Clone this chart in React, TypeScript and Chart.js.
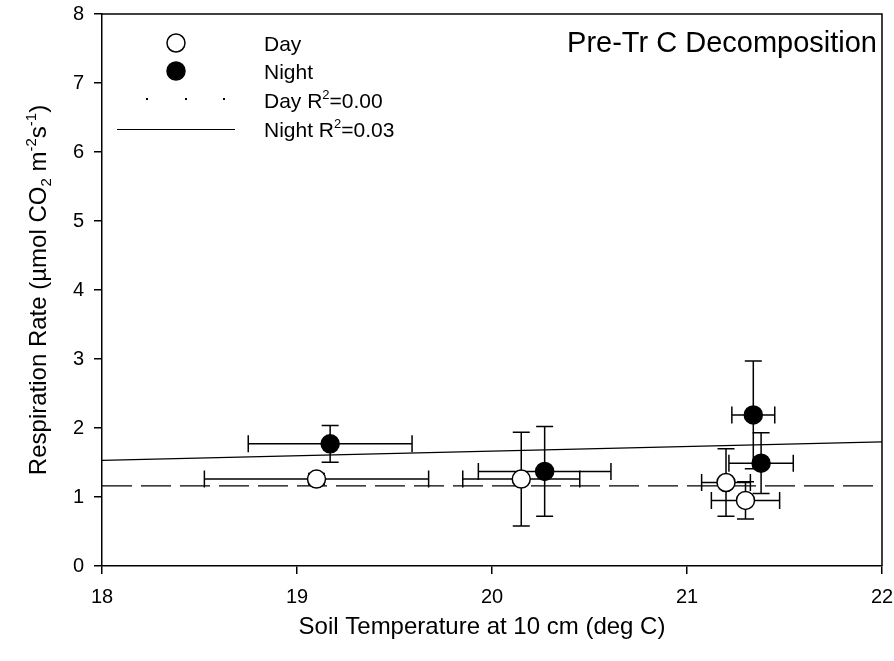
import React, { useEffect, useRef } from "react";
import { Chart, registerables } from "chart.js";

Chart.register(...registerables);

const FONT = "'Liberation Sans', Arial, Helvetica, sans-serif";

// Axis ranges / ticks
const xMin = 18;
const xMax = 22;
const yMin = 0;
const yMax = 8;

// Day (open circles)
const dayTemp = [19.1, 20.15, 21.2, 21.3];
const dayResp = [1.26, 1.26, 1.21, 0.95];
const dayTempErr = [0.575, 0.3, 0.125, 0.175];
const dayRespErr = [0.08, 0.68, 0.49, 0.27];

// Night (filled circles)
const nightTemp = [19.17, 20.27, 21.34, 21.38];
const nightResp = [1.77, 1.37, 2.19, 1.49];
const nightTempErr = [0.42, 0.34, 0.11, 0.165];
const nightRespErr = [0.265, 0.65, 0.78, 0.44];

// Regression lines
const fitX = [18, 22];
const dayFitY = [1.16, 1.16];
const nightFitY = [1.53, 1.8];

const chartTitle = "Pre-Tr C Decomposition";
const legendDay = "Day";
const legendNight = "Night";
const legendDayFit = ["Day R", "2", "=0.00"];
const legendNightFit = ["Night R", "2", "=0.03"];

type Seg = { t: string; s: number; dy: number };

function richWidth(ctx: CanvasRenderingContext2D, segs: Seg[]) {
  let w = 0;
  for (const g of segs) {
    ctx.font = `${g.s}px ${FONT}`;
    w += ctx.measureText(g.t).width;
  }
  return w;
}

function drawRich(
  ctx: CanvasRenderingContext2D,
  segs: Seg[],
  x: number,
  y: number,
  align: "left" | "center"
) {
  let cx = align === "center" ? x - richWidth(ctx, segs) / 2 : x;
  ctx.textAlign = "left";
  ctx.textBaseline = "alphabetic";
  ctx.fillStyle = "#000";
  for (const g of segs) {
    ctx.font = `${g.s}px ${FONT}`;
    ctx.fillText(g.t, cx, y + g.dy);
    cx += ctx.measureText(g.t).width;
  }
}

const errorBarPlugin = {
  id: "errorBars",
  beforeDatasetsDraw(chart: any) {
    const ctx = chart.ctx as CanvasRenderingContext2D;
    const xs = chart.scales.x;
    const ys = chart.scales.y;
    const groups = [
      { x: dayTemp, y: dayResp, ex: dayTempErr, ey: dayRespErr },
      { x: nightTemp, y: nightResp, ex: nightTempErr, ey: nightRespErr },
    ];
    const cap = 8.5;
    ctx.save();
    ctx.strokeStyle = "#000";
    ctx.lineWidth = 1.5;
    for (const g of groups) {
      for (let i = 0; i < g.x.length; i++) {
        const px = xs.getPixelForValue(g.x[i]);
        const py = ys.getPixelForValue(g.y[i]);
        const x1 = xs.getPixelForValue(g.x[i] - g.ex[i]);
        const x2 = xs.getPixelForValue(g.x[i] + g.ex[i]);
        const y1 = ys.getPixelForValue(g.y[i] - g.ey[i]);
        const y2 = ys.getPixelForValue(g.y[i] + g.ey[i]);
        ctx.beginPath();
        ctx.moveTo(x1, py);
        ctx.lineTo(x2, py);
        ctx.moveTo(x1, py - cap);
        ctx.lineTo(x1, py + cap);
        ctx.moveTo(x2, py - cap);
        ctx.lineTo(x2, py + cap);
        ctx.moveTo(px, y1);
        ctx.lineTo(px, y2);
        ctx.moveTo(px - cap, y1);
        ctx.lineTo(px + cap, y1);
        ctx.moveTo(px - cap, y2);
        ctx.lineTo(px + cap, y2);
        ctx.stroke();
      }
    }
    ctx.restore();
  },
};

const decorPlugin = {
  id: "decor",
  afterDraw(chart: any) {
    const ctx = chart.ctx as CanvasRenderingContext2D;
    const a = chart.chartArea;
    ctx.save();
    // frame top and right
    ctx.strokeStyle = "#000";
    ctx.lineWidth = 1.5;
    ctx.beginPath();
    ctx.moveTo(a.left, a.top);
    ctx.lineTo(a.right, a.top);
    ctx.lineTo(a.right, a.bottom);
    ctx.stroke();

    // title
    ctx.fillStyle = "#000";
    ctx.font = `29px ${FONT}`;
    ctx.textAlign = "right";
    ctx.textBaseline = "alphabetic";
    ctx.fillText(chartTitle, a.right - 5, 52);

    // legend symbols
    ctx.lineWidth = 1.5;
    ctx.beginPath();
    ctx.arc(176, 43, 9, 0, Math.PI * 2);
    ctx.fillStyle = "#fff";
    ctx.fill();
    ctx.stroke();
    ctx.beginPath();
    ctx.arc(176, 71, 9, 0, Math.PI * 2);
    ctx.fillStyle = "#000";
    ctx.fill();
    ctx.stroke();
    ctx.fillStyle = "#000";
    for (const dx of [147, 186, 224]) ctx.fillRect(dx - 1, 98, 2, 2);
    ctx.lineWidth = 1.2;
    ctx.beginPath();
    ctx.moveTo(117, 129.5);
    ctx.lineTo(235, 129.5);
    ctx.stroke();

    // legend text
    const lf = 21;
    drawRich(ctx, [{ t: legendDay, s: lf, dy: 0 }], 264, 51, "left");
    drawRich(ctx, [{ t: legendNight, s: lf, dy: 0 }], 264, 79, "left");
    drawRich(
      ctx,
      [
        { t: legendDayFit[0], s: lf, dy: 0 },
        { t: legendDayFit[1], s: 13, dy: -9 },
        { t: legendDayFit[2], s: lf, dy: 0 },
      ],
      264,
      108,
      "left"
    );
    drawRich(
      ctx,
      [
        { t: legendNightFit[0], s: lf, dy: 0 },
        { t: legendNightFit[1], s: 13, dy: -9 },
        { t: legendNightFit[2], s: lf, dy: 0 },
      ],
      264,
      137,
      "left"
    );

    // x axis title
    drawRich(
      ctx,
      [{ t: "Soil Temperature at 10 cm (deg C)", s: 24, dy: 0 }],
      (a.left + a.right) / 2 - 10,
      634,
      "center"
    );

    // y axis title
    ctx.translate(46, (a.top + a.bottom) / 2);
    ctx.rotate(-Math.PI / 2);
    drawRich(
      ctx,
      [
        { t: "Respiration Rate (\u00B5mol CO", s: 24, dy: 0 },
        { t: "2", s: 15, dy: 5 },
        { t: " m", s: 24, dy: 0 },
        { t: "-2", s: 15, dy: -10 },
        { t: "s", s: 24, dy: 0 },
        { t: "-1", s: 15, dy: -10 },
        { t: ")", s: 24, dy: 0 },
      ],
      0,
      0,
      "center"
    );
    ctx.restore();
  },
};

export default function App() {
  const ref = useRef<HTMLCanvasElement>(null);

  useEffect(() => {
    if (!ref.current) return;
    const toPts = (xs: number[], ys: number[]) => xs.map((x, i) => ({ x, y: ys[i] }));
    const chart = new Chart(ref.current, {
      type: "scatter",
      data: {
        datasets: [
          {
            label: "Night",
            data: toPts(nightTemp, nightResp),
            pointRadius: 9,
            pointBackgroundColor: "#000",
            pointBorderColor: "#000",
            pointBorderWidth: 1.5,
            showLine: false,
          },
          {
            label: "Day",
            data: toPts(dayTemp, dayResp),
            pointRadius: 9,
            pointBackgroundColor: "#fff",
            pointBorderColor: "#000",
            pointBorderWidth: 1.5,
            showLine: false,
          },
          {
            label: "Night fit",
            data: toPts(fitX, nightFitY),
            showLine: true,
            pointRadius: 0,
            borderColor: "#000",
            borderWidth: 1.2,
          },
          {
            label: "Day fit",
            data: toPts(fitX, dayFitY),
            showLine: true,
            pointRadius: 0,
            borderColor: "#000",
            borderWidth: 1.2,
            borderDash: [30, 9],
          },
        ],
      },
      options: {
        animation: false,
        responsive: false,
        events: [],
        layout: { padding: { top: 14, right: 12, left: 0, bottom: 0 } },
        plugins: {
          legend: { display: false },
          tooltip: { enabled: false },
          title: { display: false },
        },
        scales: {
          x: {
            type: "linear",
            min: xMin,
            max: xMax,
            afterFit: (s: any) => {
              s.height = 95;
              s.paddingLeft = 0;
              s.paddingRight = 0;
            },
            ticks: {
              stepSize: 1,
              color: "#000",
              font: { family: FONT, size: 20 },
              padding: 11,
            },
            grid: {
              display: true,
              drawOnChartArea: false,
              drawTicks: true,
              tickLength: 8,
              color: "#000",
              lineWidth: 1.5,
            },
            border: { display: true, color: "#000", width: 1.5 },
          },
          y: {
            type: "linear",
            min: yMin,
            max: yMax,
            afterFit: (s: any) => {
              s.width = 102;
              s.paddingTop = 0;
              s.paddingBottom = 0;
            },
            ticks: {
              stepSize: 1,
              color: "#000",
              font: { family: FONT, size: 20 },
              padding: 10,
            },
            grid: {
              display: true,
              drawOnChartArea: false,
              drawTicks: true,
              tickLength: 8,
              color: "#000",
              lineWidth: 1.5,
            },
            border: { display: true, color: "#000", width: 1.5 },
          },
        },
      },
      plugins: [errorBarPlugin, decorPlugin],
    } as any);
    return () => chart.destroy();
  }, []);

  return (
    <div style={{ position: "absolute", left: 0, top: 0, width: 894, height: 661, background: "#fff" }}>
      <canvas ref={ref} width={894} height={661} style={{ width: 894, height: 661 }} />
    </div>
  );
}
